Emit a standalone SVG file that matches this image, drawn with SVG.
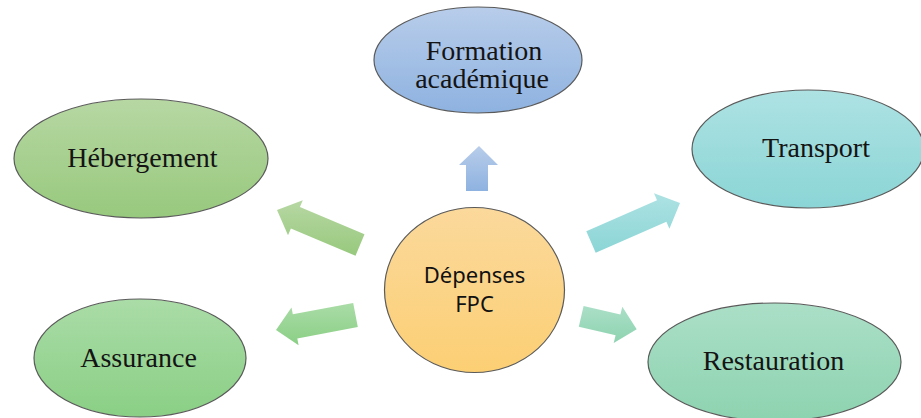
<svg xmlns="http://www.w3.org/2000/svg" width="921" height="418" viewBox="0 0 921 418">
  <defs>
    <linearGradient id="gBlue" x1="0" y1="0" x2="0" y2="1"><stop offset="0" stop-color="#b8cdea"/><stop offset="1" stop-color="#8eb2e0"/></linearGradient>
    <linearGradient id="gHeb" x1="0" y1="0" x2="0" y2="1"><stop offset="0" stop-color="#b7d7a3"/><stop offset="1" stop-color="#97c97d"/></linearGradient>
    <linearGradient id="gTra" x1="0" y1="0" x2="0" y2="1"><stop offset="0" stop-color="#aee2e3"/><stop offset="1" stop-color="#8bd5d6"/></linearGradient>
    <linearGradient id="gAss" x1="0" y1="0" x2="0" y2="1"><stop offset="0" stop-color="#aadca7"/><stop offset="1" stop-color="#8acf85"/></linearGradient>
    <linearGradient id="gRes" x1="0" y1="0" x2="0" y2="1"><stop offset="0" stop-color="#abdfc7"/><stop offset="1" stop-color="#8dd3b0"/></linearGradient>
    <linearGradient id="gCen" x1="0" y1="0" x2="0" y2="1"><stop offset="0" stop-color="#fbd99c"/><stop offset="1" stop-color="#fccf74"/></linearGradient>
  </defs>
  <style>
    .node { stroke: #5a5a5a; stroke-width: 1.2; }
    .lbl { font-family: "Liberation Serif", "Times New Roman", serif; font-size: 28px; fill: #141414; text-anchor: middle; }
    .clbl { font-family: "Noto Sans", "Open Sans", sans-serif; font-size: 22px; fill: #111; text-anchor: middle; }
  </style>
  <rect width="921" height="418" fill="#ffffff"/>
  <g id="connectors">
    <polygon fill="url(#gBlue)" points="466,191 466,165 459,165 479,146 498,165 488,165 488,191"/>
    <polygon fill="url(#gHeb)" points="364.5,234.2 299.9,207.0 302.8,200.3 277,210 288.0,235.3 290.9,228.6 355.5,255.8"/>
    <polygon fill="url(#gAss)" points="353.2,303.0 292.8,314.3 291.5,307.5 276,330 298.6,345.3 297.3,338.4 357.8,327.0"/>
    <polygon fill="url(#gTra)" points="586.3,231.3 657.0,200.3 654.0,193.3 680,203 669.4,228.7 666.4,221.7 595.7,252.7"/>
    <polygon fill="url(#gRes)" points="583.6,305.9 620.4,314.5 622.3,306.7 636.7,329.3 613.7,343.1 615.6,335.3 578.8,326.7"/>
  </g>
  <g id="formation">
    <ellipse class="node" cx="478" cy="60" rx="104" ry="53" fill="url(#gBlue)"/>
    <text class="lbl" x="484" y="60">Formation</text>
    <text class="lbl" x="482" y="88">académique</text>
  </g>
  <g id="hebergement">
    <ellipse class="node" cx="141" cy="158.5" rx="127" ry="59.5" fill="url(#gHeb)"/>
    <text class="lbl" x="142.5" y="167">Hébergement</text>
  </g>
  <g id="transport">
    <ellipse class="node" cx="808" cy="149" rx="116" ry="59" fill="url(#gTra)"/>
    <text class="lbl" x="816" y="157">Transport</text>
  </g>
  <g id="assurance">
    <ellipse class="node" cx="140" cy="358" rx="106" ry="59" fill="url(#gAss)"/>
    <text class="lbl" x="138.5" y="367">Assurance</text>
  </g>
  <g id="restauration">
    <ellipse class="node" cx="774.5" cy="362" rx="126.5" ry="59" fill="url(#gRes)"/>
    <text class="lbl" x="773.5" y="370">Restauration</text>
  </g>
  <g id="depenses">
    <ellipse class="node" cx="474.5" cy="290" rx="90" ry="82.5" fill="url(#gCen)"/>
    <text class="clbl" x="474.5" y="283">Dépenses</text>
    <text class="clbl" x="474.5" y="312">FPC</text>
  </g>
</svg>
